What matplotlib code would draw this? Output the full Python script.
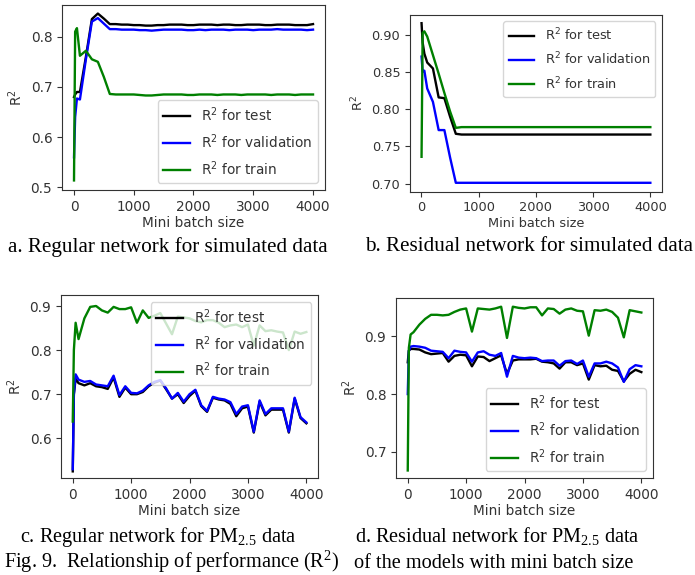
import matplotlib
matplotlib.use("Agg")
import matplotlib.pyplot as plt

# Mini batch sizes shared by every experiment
batch_sizes = [1, 20, 50, 100, 200, 300, 400, 500, 600, 700, 800, 900, 1000,
               1100, 1200, 1300, 1400, 1500, 1600, 1700, 1800, 1900, 2000,
               2100, 2200, 2300, 2400, 2500, 2600, 2700, 2800, 2900, 3000,
               3100, 3200, 3300, 3400, 3500, 3600, 3700, 3800, 3900, 4000]

# a. Regular network, simulated data
reg_sim_test = [0.680, 0.685, 0.690, 0.690, 0.760, 0.835, 0.846, 0.836, 0.825,
                0.825, 0.824, 0.824, 0.823, 0.823, 0.822, 0.822, 0.823, 0.823,
                0.824, 0.824, 0.824, 0.823, 0.823, 0.824, 0.824, 0.824, 0.823,
                0.824, 0.824, 0.823, 0.823, 0.824, 0.824, 0.824, 0.823, 0.823,
                0.824, 0.824, 0.824, 0.823, 0.823, 0.823, 0.825]
reg_sim_val = [0.560, 0.640, 0.677, 0.675, 0.755, 0.830, 0.837, 0.826, 0.815,
               0.815, 0.814, 0.814, 0.814, 0.813, 0.813, 0.812, 0.813, 0.814,
               0.814, 0.814, 0.814, 0.813, 0.813, 0.814, 0.813, 0.814, 0.814,
               0.814, 0.813, 0.814, 0.814, 0.814, 0.813, 0.814, 0.814, 0.814,
               0.815, 0.814, 0.814, 0.814, 0.814, 0.813, 0.814]
reg_sim_train = [0.514, 0.810, 0.817, 0.762, 0.772, 0.755, 0.750, 0.720, 0.686,
                 0.685, 0.685, 0.685, 0.685, 0.684, 0.683, 0.683, 0.684, 0.685,
                 0.685, 0.685, 0.685, 0.684, 0.684, 0.685, 0.685, 0.685, 0.684,
                 0.685, 0.685, 0.685, 0.684, 0.685, 0.685, 0.685, 0.685, 0.684,
                 0.685, 0.685, 0.685, 0.684, 0.685, 0.685, 0.685]

# b. Residual network, simulated data
res_sim_test = [0.916, 0.890, 0.875, 0.863, 0.855, 0.816, 0.815, 0.790, 0.767,
                0.766, 0.766, 0.766, 0.766, 0.766, 0.766, 0.766, 0.766, 0.766,
                0.766, 0.766, 0.766, 0.766, 0.766, 0.766, 0.766, 0.766, 0.766,
                0.766, 0.766, 0.766, 0.766, 0.766, 0.766, 0.766, 0.766, 0.766,
                0.766, 0.766, 0.766, 0.766, 0.766, 0.766, 0.766]
res_sim_val = [0.871, 0.851, 0.852, 0.828, 0.810, 0.772, 0.772, 0.735, 0.701,
               0.701, 0.701, 0.701, 0.701, 0.701, 0.701, 0.701, 0.701, 0.701,
               0.701, 0.701, 0.701, 0.701, 0.701, 0.701, 0.701, 0.701, 0.701,
               0.701, 0.701, 0.701, 0.701, 0.701, 0.701, 0.701, 0.701, 0.701,
               0.701, 0.701, 0.701, 0.701, 0.701, 0.701, 0.701]
res_sim_train = [0.736, 0.903, 0.905, 0.898, 0.873, 0.848, 0.822, 0.797, 0.775,
                 0.776, 0.776, 0.776, 0.776, 0.776, 0.776, 0.776, 0.776, 0.776,
                 0.776, 0.776, 0.776, 0.776, 0.776, 0.776, 0.776, 0.776, 0.776,
                 0.776, 0.776, 0.776, 0.776, 0.776, 0.776, 0.776, 0.776, 0.776,
                 0.776, 0.776, 0.776, 0.776, 0.776, 0.776, 0.776]

# c. Regular network, PM2.5 data
reg_pm_test = [0.525, 0.700, 0.735, 0.725, 0.720, 0.725, 0.718, 0.716, 0.712,
               0.738, 0.694, 0.715, 0.700, 0.700, 0.705, 0.718, 0.726, 0.731,
               0.711, 0.690, 0.700, 0.680, 0.696, 0.708, 0.673, 0.660, 0.692,
               0.688, 0.686, 0.678, 0.650, 0.668, 0.672, 0.613, 0.683, 0.652,
               0.665, 0.665, 0.665, 0.613, 0.690, 0.646, 0.634]
reg_pm_val = [0.530, 0.700, 0.745, 0.733, 0.728, 0.730, 0.722, 0.720, 0.718,
              0.742, 0.698, 0.718, 0.703, 0.702, 0.708, 0.720, 0.728, 0.732,
              0.713, 0.690, 0.703, 0.683, 0.700, 0.710, 0.675, 0.662, 0.694,
              0.690, 0.688, 0.682, 0.655, 0.672, 0.675, 0.615, 0.686, 0.655,
              0.668, 0.668, 0.668, 0.615, 0.692, 0.648, 0.636]
reg_pm_train = [0.638, 0.800, 0.862, 0.825, 0.872, 0.898, 0.900, 0.890, 0.885,
                0.898, 0.893, 0.893, 0.897, 0.862, 0.890, 0.873, 0.878, 0.884,
                0.860, 0.836, 0.876, 0.874, 0.872, 0.866, 0.863, 0.868, 0.868,
                0.862, 0.852, 0.856, 0.858, 0.852, 0.858, 0.810, 0.856, 0.843,
                0.845, 0.842, 0.840, 0.800, 0.842, 0.837, 0.841]

# d. Residual network, PM2.5 data
res_pm_test = [0.855, 0.875, 0.878, 0.878, 0.877, 0.872, 0.869, 0.870, 0.871,
               0.856, 0.866, 0.868, 0.867, 0.848, 0.865, 0.864, 0.857, 0.862,
               0.867, 0.835, 0.858, 0.860, 0.860, 0.860, 0.861, 0.856, 0.855,
               0.853, 0.844, 0.855, 0.855, 0.850, 0.853, 0.825, 0.850, 0.848,
               0.849, 0.842, 0.840, 0.822, 0.835, 0.842, 0.838]
res_pm_val = [0.800, 0.875, 0.882, 0.883, 0.882, 0.880, 0.875, 0.874, 0.873,
              0.862, 0.875, 0.873, 0.872, 0.856, 0.872, 0.874, 0.868, 0.866,
              0.871, 0.830, 0.866, 0.863, 0.862, 0.863, 0.862, 0.857, 0.858,
              0.858, 0.849, 0.857, 0.858, 0.852, 0.858, 0.830, 0.853, 0.853,
              0.856, 0.853, 0.846, 0.821, 0.843, 0.850, 0.848]
res_pm_train = [0.668, 0.880, 0.903, 0.907, 0.920, 0.930, 0.937, 0.937, 0.936,
                0.937, 0.942, 0.946, 0.948, 0.908, 0.948, 0.947, 0.946, 0.948,
                0.951, 0.897, 0.951, 0.949, 0.948, 0.950, 0.950, 0.936, 0.948,
                0.947, 0.939, 0.946, 0.948, 0.944, 0.943, 0.901, 0.945, 0.944,
                0.946, 0.942, 0.932, 0.898, 0.945, 0.943, 0.941]

series_labels = ["R$^2$ for test", "R$^2$ for validation", "R$^2$ for train"]
series_colors = ["k", "b", "g"]

captions_top = ["a. Regular network for simulated data",
                "b. Residual network for simulated data"]
captions_bottom = ["c. Regular network for PM$_\\mathregular{2.5}$ data",
                   "d. Residual network for PM$_\\mathregular{2.5}$ data"]
figure_caption = ["Fig. 9.  Relationship of performance (R$^\\mathregular{2}$)",
                  "of the models with mini batch size"]

fig = plt.figure(figsize=(6.95, 5.75), dpi=100)

panels = [
    # rect, y-limits, data, legend location, font size
    ([0.0892, 0.6696, 0.3784, 0.3217], (0.495, 0.863),
     (reg_sim_test, reg_sim_val, reg_sim_train), "lower right", 9.8),
    ([0.5900, 0.6666, 0.3622, 0.3073], (0.689, 0.927),
     (res_sim_test, res_sim_val, res_sim_train), "upper right", 9.3),
    ([0.0878, 0.1687, 0.3698, 0.3183], (0.510, 0.925),
     (reg_pm_test, reg_pm_val, reg_pm_train), "upper right", 9.8),
    ([0.5698, 0.1687, 0.3698, 0.3130], (0.655, 0.966),
     (res_pm_test, res_pm_val, res_pm_train), "lower right", 9.8),
]

for rect, ylim, data, loc, fs in panels:
    ax = fig.add_axes(rect)
    for values, label, color in zip(data, series_labels, series_colors):
        ax.plot(batch_sizes, values, color=color, lw=1.7, label=label)
    ax.set_xlim(-200, 4200)
    ax.set_ylim(*ylim)
    ax.set_xticks([0, 1000, 2000, 3000, 4000])
    ax.tick_params(labelsize=fs, colors="#333333", labelcolor="#333333")
    for sp in ax.spines.values():
        sp.set_color("#333333")
    ax.set_xlabel("Mini batch size", fontsize=fs, color="#333333", labelpad=2)
    ax.set_ylabel("R$^2$", fontsize=fs, color="#333333")
    leg = ax.legend(loc=loc, fontsize=fs, labelspacing=0.6)
    for t in leg.get_texts():
        t.set_color("#333333")

serif = "Liberation Serif"
cap_fs = 15.2
low_fs = 14.6
fig.text(8 / 695, 1 - 247 / 575, captions_top[0], family=serif,
         fontsize=cap_fs, va="center", ha="left")
fig.text(365 / 695, 1 - 247 / 575, captions_top[1], family=serif,
         fontsize=cap_fs, va="center", ha="left")
fig.text(20 / 695, 1 - 537 / 575, captions_bottom[0], family=serif,
         fontsize=low_fs, va="center", ha="left")
fig.text(355 / 695, 1 - 537 / 575, captions_bottom[1], family=serif,
         fontsize=low_fs, va="center", ha="left")
fig.text(4 / 695, 1 - 562 / 575, figure_caption[0], family=serif,
         fontsize=low_fs, va="center", ha="left")
fig.text(354 / 695, 1 - 563 / 575, figure_caption[1], family=serif,
         fontsize=low_fs, va="center", ha="left")

fig.savefig("out.png", dpi=100)
